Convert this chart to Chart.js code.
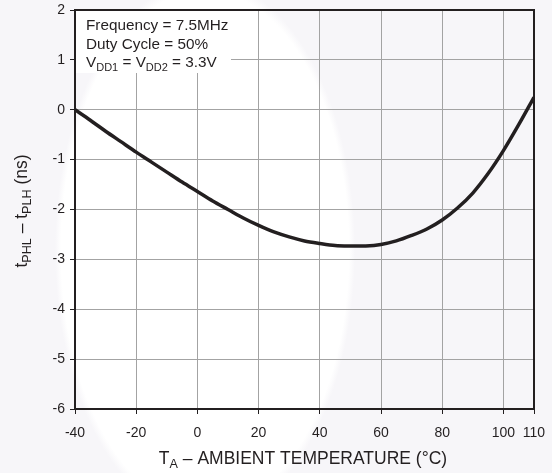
<!DOCTYPE html>
<html>
<head>
<meta charset="utf-8">
<script src="https://cdn.jsdelivr.net/npm/chart.js@4.4.0/dist/chart.umd.min.js"></script>
<style>
  html, body { margin: 0; padding: 0; }
  body {
    width: 552px; height: 473px; overflow: hidden;
    background: radial-gradient(ellipse 150px 270px at 205px 250px, #ffffff 0%, #ffffff 96%, #f7f6f9 100%), #f7f6f9;
  }
  #wrap { width: 552px; height: 473px; }
</style>
</head>
<body>
<div id="wrap"><canvas id="chart"></canvas></div>
<script>
// temperature (°C) vs tPHL - tPLH (ns)
const temps = [-40, -35, -30, -25, -20, -15, -10, -5, 0, 5, 10, 15, 20, 25, 30, 35, 40, 45, 50, 55, 60, 65, 70, 75, 80, 85, 90, 95, 100, 105, 110];
const skew = [0, -0.21, -0.43, -0.64, -0.85, -1.05, -1.25, -1.45, -1.64, -1.83, -2.0, -2.17, -2.32, -2.45, -2.55, -2.63, -2.68, -2.72, -2.73, -2.73, -2.70, -2.63, -2.52, -2.39, -2.21, -1.97, -1.67, -1.28, -0.82, -0.3, 0.25];
const xTicks = [-40, -20, 0, 20, 40, 60, 80, 100, 110];
const yTicks = [-6, -5, -4, -3, -2, -1, 0, 1, 2];

const ink = "#231f20";
const font = "Liberation Sans, Arial, Helvetica, sans-serif";

// draws text with subscripts, parts = [[text, isSub], ...]
function richWidth(ctx, parts, size) {
    let w = 0;
    parts.forEach(p => {
        ctx.font = (p[1] ? size * 0.72 : size) + "px " + font;
        w += ctx.measureText(p[0]).width;
    });
    return w;
}

function drawRich(ctx, parts, x, y, size, align) {
    let w = richWidth(ctx, parts, size);
    let cx = align === "center" ? x - w / 2 : x;
    ctx.textAlign = "left";
    ctx.textBaseline = "alphabetic";
    ctx.fillStyle = ink;
    parts.forEach(p => {
        ctx.font = (p[1] ? size * 0.72 : size) + "px " + font;
        ctx.fillText(p[0], cx, p[1] ? y + size * 0.25 : y);
        cx += ctx.measureText(p[0]).width;
    });
}

const textPlugin = {
    id: "texts",
    beforeDatasetsDraw(chart) {
        const ctx = chart.ctx;
        const a = chart.chartArea;
        ctx.save();
        // info box
        ctx.fillStyle = "#ffffff";
        ctx.fillRect(a.left + 1, a.top + 1, 155, 62);
        drawRich(ctx, [["Frequency = 7.5MHz", false]], 86, 30, 15.3);
        drawRich(ctx, [["Duty Cycle = 50%", false]], 86, 48.5, 15.3);
        drawRich(ctx, [["V", false], ["DD1", true], [" = V", false], ["DD2", true], [" = 3.3V", false]], 86, 67, 15.3);
        ctx.restore();
    },
    afterDraw(chart) {
        const ctx = chart.ctx;
        const a = chart.chartArea;
        ctx.save();
        ctx.strokeStyle = ink;
        ctx.lineWidth = 2;
        ctx.strokeRect(a.left, a.top, a.right - a.left, a.bottom - a.top);
        // x title
        drawRich(ctx, [["T", false], ["A", true], [" \u2013 AMBIENT TEMPERATURE (\u00b0C)", false]], 303, 464, 17.5, "center");
        // y title
        ctx.translate(27, 211);
        ctx.rotate(-Math.PI / 2);
        drawRich(ctx, [["t", false], ["PHL", true], [" \u2013 t", false], ["PLH", true], [" (ns)", false]], 0, 0, 17.5, "center");
        ctx.restore();
    }
};

new Chart(document.getElementById("chart"), {
    type: "line",
    data: {
        datasets: [{
            data: temps.map((t, i) => ({ x: t, y: skew[i] })),
            borderColor: ink,
            borderWidth: 3.5,
            pointRadius: 0,
            tension: 0.3,
            fill: false
        }]
    },
    options: {
        responsive: true,
        maintainAspectRatio: false,
        animation: false,
        layout: { padding: { left: 0, right: 18, top: 10, bottom: 0 } },
        plugins: { legend: { display: false }, tooltip: { enabled: false } },
        scales: {
            x: {
                type: "linear",
                min: -40,
                max: 110,
                afterBuildTicks: s => { s.ticks = xTicks.map(v => ({ value: v })); },
                afterFit: s => { s.height = 64; s.paddingLeft = 0; s.paddingRight = 0; },
                ticks: { color: ink, font: { family: font, size: 14 }, padding: 11, maxRotation: 0, autoSkip: false },
                grid: { color: "#a3a3a3", lineWidth: 1, tickLength: 5, tickColor: ink },
                border: { color: ink, width: 2 }
            },
            y: {
                min: -6,
                max: 2,
                afterBuildTicks: s => { s.ticks = yTicks.map(v => ({ value: v })); },
                afterFit: s => { s.width = 75; s.paddingTop = 0; s.paddingBottom = 0; },
                ticks: { color: ink, font: { family: font, size: 14 }, padding: 5 },
                grid: { color: "#a3a3a3", lineWidth: 1, tickLength: 5, tickColor: ink },
                border: { color: ink, width: 2 }
            }
        }
    },
    plugins: [textPlugin]
});
</script>
</body>
</html>
